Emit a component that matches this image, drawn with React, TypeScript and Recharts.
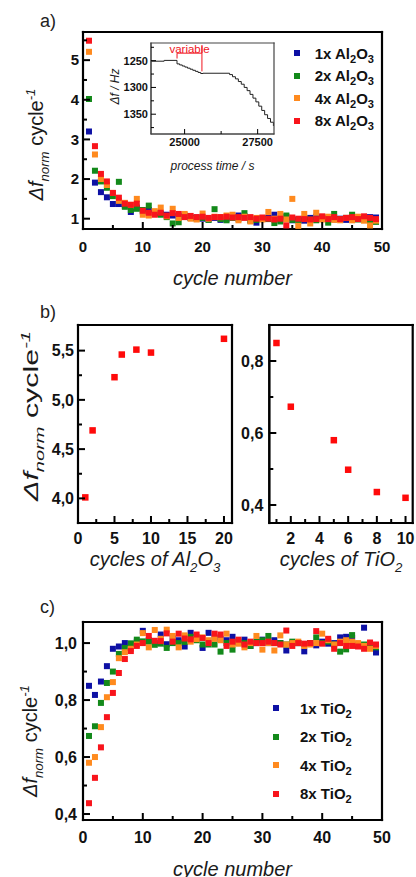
import React from 'react';
import {
  ScatterChart,
  Scatter,
  LineChart,
  Line,
  XAxis,
  YAxis,
  ReferenceLine,
  ReferenceDot,
  Label,
} from 'recharts';

const FONT = '"Liberation Sans", Arial, Helvetica, sans-serif';

// ---- panel a: Al2O3 pulses, normalised frequency shift per cycle ----
const cycleNo = Array.from({ length: 49 }, (_, i) => i + 1);

const al1x = [
  3.2, 1.91, 1.67, 1.54, 1.37, 1.37, 1.33, 1.17, 1.28, 1.18,
  1.22, 1.15, 1.12, 1.1, 1.08, 1.05, 1.07, 1.02, 1.03, 1.0,
  0.98, 1.02, 0.97, 1.0, 1.05, 1.08, 1.06, 0.96, 0.9, 1.0,
  1.02, 1.1, 0.98, 1.05, 0.96, 0.98, 0.95, 1.02, 1.05, 1.04,
  1.02, 0.98, 1.0, 0.97, 1.02, 1.0, 0.98, 1.04, 1.03,
];
const al2x = [
  4.02, 2.21, 1.94, 1.78, 1.57, 1.93, 1.3, 1.22, 1.25, 1.22,
  1.33, 1.12, 1.1, 1.04, 0.88, 0.91, 1.08, 1.02, 1.0, 1.02,
  0.97, 1.24, 0.99, 0.96, 1.02, 1.0, 1.14, 0.95, 0.97, 1.01,
  0.99, 0.89, 0.93, 1.08, 0.97, 0.95, 1.0, 0.98, 0.96, 1.0,
  0.9, 1.12, 0.99, 1.02, 1.1, 0.98, 1.02, 0.95, 0.92,
];
const al4x = [
  5.21, 2.62, 2.0, 1.85, 1.65, 1.45, 1.4, 1.35, 1.5, 1.1,
  1.08, 1.19, 1.28, 1.06, 1.25, 1.02, 1.12, 1.0, 0.98, 1.13,
  1.0, 1.05, 1.04, 1.08, 1.1, 0.96, 1.05, 0.93, 1.02, 0.98,
  1.17, 1.0, 1.12, 0.98, 1.5, 0.82, 1.12, 0.88, 1.15, 0.98,
  1.05, 0.97, 0.96, 1.02, 0.96, 1.05, 0.95, 0.83, 0.95,
];
const al8x = [
  5.49, 2.83, 2.13, 1.94, 1.65, 1.53, 1.38, 1.35, 1.38, 1.2,
  1.15, 1.1, 1.15, 1.08, 1.14, 1.12, 1.04, 1.07, 1.04, 1.05,
  1.02, 1.04, 1.04, 1.05, 1.03, 1.04, 1.02, 1.04, 1.0, 1.03,
  1.0, 0.98, 1.0, 0.83, 1.03, 1.0, 0.99, 0.98, 0.99, 1.06,
  0.99, 1.04, 0.99, 1.02, 1.04, 0.99, 1.06, 1.02, 0.99,
];

// inset: QCM frequency shift vs. process time (stepwise)
const insetTime = [
  23850, 24300, 24740, 24830, 24920, 25010, 25100, 25190, 25280, 25370,
  25460, 25550, 25630, 26540, 26640, 26740, 26840, 26940, 27040, 27140,
  27240, 27340, 27440, 27540, 27640, 27740, 27840, 27940, 28040,
];
const insetShift = [
  1251, 1249.5, 1256, 1258, 1260, 1262, 1264, 1266, 1268, 1270,
  1272, 1274, 1273.5, 1276, 1280, 1284, 1289, 1294, 1300, 1306,
  1313, 1320, 1327, 1335, 1343, 1351, 1358, 1365, 1372,
];

// ---- panel b: saturation values ----
const alCycles = [1, 2, 5, 6, 8, 10, 20];
const alSat = [4.01, 4.69, 5.23, 5.46, 5.51, 5.48, 5.62];
const tiCycles = [1, 2, 5, 6, 8, 10];
const tiSat = [0.85, 0.673, 0.58, 0.498, 0.436, 0.42];

// ---- panel c: TiO2 pulses ----
const ti1x = [
  0.85, 0.818, 0.865, 0.919, 0.98, 0.988, 1.0, 0.997, 1.005, 1.043,
  1.01, 1.0, 1.03, 0.996, 1.016, 1.01, 0.988, 1.036, 1.02, 0.983,
  1.036, 1.02, 1.015, 1.01, 1.022, 1.0, 1.012, 0.99, 1.0, 1.012,
  1.0, 1.01, 1.0, 0.974, 1.0, 1.0, 0.971, 1.0, 0.992, 1.005,
  0.998, 1.0, 1.02, 1.022, 1.018, 0.995, 1.054, 0.99, 0.967,
];
const ti2x = [
  0.674, 0.708, 0.79, 0.86, 0.9, 0.962, 0.983, 0.999, 1.012, 1.006,
  1.005, 0.994, 0.998, 0.983, 1.0, 1.0, 1.004, 1.022, 1.01, 0.995,
  0.995, 0.995, 0.97, 1.0, 0.977, 1.005, 1.0, 0.99, 1.005, 1.01,
  1.025, 1.0, 1.0, 0.995, 1.005, 1.0, 0.995, 1.0, 1.02, 1.0,
  1.005, 0.995, 0.97, 0.978, 1.028, 0.99, 0.995, 0.99, 0.985,
];
const ti4x = [
  0.58, 0.6, 0.705, 0.81, 0.863, 0.947, 0.968, 0.98, 0.995, 1.035,
  0.985, 1.046, 1.015, 1.047, 1.025, 0.985, 1.027, 1.005, 1.014, 1.02,
  1.01, 1.015, 1.01, 1.033, 0.995, 0.998, 0.985, 1.0, 1.025, 0.977,
  1.0, 0.974, 1.027, 0.995, 1.0, 1.005, 0.99, 0.995, 1.0, 1.033,
  1.01, 0.995, 1.005, 1.01, 1.005, 1.0, 0.99, 0.98, 0.99,
];
const ti8x = [
  0.438, 0.527, 0.634, 0.74, 0.825, 0.895, 0.944, 0.972, 0.99, 1.0,
  1.025, 1.008, 1.007, 1.034, 1.005, 1.033, 1.016, 1.013, 1.03, 1.018,
  1.0, 1.033, 1.03, 0.99, 1.005, 1.012, 0.995, 1.005, 1.0, 1.0,
  1.005, 1.0, 0.995, 1.044, 0.99, 1.0, 0.998, 1.0, 1.042, 0.998,
  1.015, 0.98, 1.0, 0.99, 0.99, 0.988, 0.98, 1.002, 0.995,
];

const pulseLabels = ['1x', '2x', '4x', '8x'];
const pulseColors = ['#0d10a4', '#13891a', '#ff8a1e', '#f8141b'];

// tick positions (minor + major)
const cycTicks = [0, 5, 10, 15, 20, 25, 30, 35, 40, 45, 50];
const aYTicks = [1, 1.5, 2, 2.5, 3, 3.5, 4, 4.5, 5, 5.5];
const insetXTicks = [25000, 26250, 27500];
const insetYTicks = [1225, 1250, 1275, 1300, 1325, 1350, 1375];
const bAlXTicks = [0, 2.5, 5, 7.5, 10, 12.5, 15, 17.5, 20];
const bAlYTicks = [4, 4.25, 4.5, 4.75, 5, 5.25, 5.5];
const bTiXTicks = [1, 2, 3, 4, 5, 6, 7, 8, 9, 10];
const bTiYTicks = [0.4, 0.5, 0.6, 0.7, 0.8];
const cYTicks = [0.4, 0.5, 0.6, 0.7, 0.8, 0.9, 1.0];

const pts = (xs: number[], ys: number[]) => xs.map((x, i) => ({ x, y: ys[i] }));
const comma = (v: number) => v.toFixed(1).replace('.', ',');

const square = (size: number) => (p: any) => (
  <rect x={p.cx - size / 2} y={p.cy - size / 2} width={size} height={size} fill={p.fill} />
);

const BLACK_AXIS = { stroke: '#000', strokeWidth: 2 };
const GREY_AXIS = { stroke: '#444', strokeWidth: 1 };

// closed box along the domain corners, as line segments in data space
const frame = (x0: number, x1: number, y0: number, y1: number, color = '#000', sw = 2.2) =>
  [
    [x0, y0, x1, y0],
    [x1, y0, x1, y1],
    [x1, y1, x0, y1],
    [x0, y1, x0, y0],
  ].map(([ax, ay, bx, by], i) => (
    <ReferenceLine
      key={'frame' + i}
      segment={[{ x: ax, y: ay }, { x: bx, y: by }]}
      stroke={color}
      strokeWidth={sw}
      strokeLinecap="square"
      ifOverflow="visible"
    />
  ));

type TickOpts = {
  side: 'bottom' | 'left';
  gap: number;
  size: number;
  isMajor: (v: number) => boolean;
  fmt?: (v: number) => string;
  major?: number;
  minor?: number;
  sw?: number;
};

// inward pointing ticks, labels only on majors
function axisTick(o: TickOpts) {
  return (p: any) => {
    const v = p.payload.value;
    const isMaj = o.isMajor(v);
    const txt = o.fmt ? o.fmt(v) : String(v);
    const len = isMaj ? o.major ?? 7 : o.minor ?? 4;
    const sw = o.sw ?? 2;
    if (o.side === 'bottom') {
      const y0 = p.y - o.gap;
      return (
        <g>
          <rect x={p.x - sw / 2} y={y0 - len} width={sw} height={len} fill="#000" />
          {isMaj && (
            <text x={p.x} y={p.y} dy="0.71em" textAnchor="middle" fontFamily={FONT} fontSize={o.size} fontWeight="bold" fill="#111">
              {txt}
            </text>
          )}
        </g>
      );
    }
    const x0 = p.x + o.gap;
    return (
      <g>
        <rect x={x0} y={p.y - sw / 2} width={len} height={sw} fill="#000" />
        {isMaj && (
          <text x={p.x} y={p.y} dy="0.355em" textAnchor="end" fontFamily={FONT} fontSize={o.size} fontWeight="bold" fill="#111">
            {txt}
          </text>
        )}
      </g>
    );
  };
}

const yTitle = (dx: number, dy: number, size: number, len?: number) => (props: any) => {
  const vb = props.viewBox;
  const cx = vb.x + dx;
  const cy = vb.y + vb.height / 2 + dy;
  const sub = size * 0.66;
  return (
    <text
      x={cx}
      y={cy}
      transform={`rotate(-90 ${cx} ${cy})`}
      textAnchor="middle"
      fontFamily={FONT}
      fontSize={size}
      fill="#1a1a1a"
      textLength={len}
      lengthAdjust={len ? 'spacingAndGlyphs' : undefined}
    >
      <tspan fontStyle="italic">Δf</tspan>
      <tspan fontStyle="italic" fontSize={sub} dy={size * 0.3}>norm</tspan>
      <tspan dy={-size * 0.3}>{' cycle'}</tspan>
      <tspan fontStyle="italic" fontSize={sub} dy={-size * 0.42}>-1</tspan>
    </text>
  );
};

const xTitle = (base: number, size: number, parts: [string, string?][]) => (props: any) => {
  const vb = props.viewBox;
  const cx = vb.x + vb.width / 2;
  const sub = size * 0.66;
  const shift = size * 0.3;
  const out: React.ReactNode[] = [];
  parts.forEach(([main, s], i) => {
    out.push(<tspan key={'m' + i} dy={i > 0 && parts[i - 1][1] ? -shift : 0}>{main}</tspan>);
    if (s) out.push(<tspan key={'s' + i} fontSize={sub} dy={shift}>{s}</tspan>);
  });
  return (
    <text x={cx} y={vb.y + base} textAnchor="middle" fontFamily={FONT} fontSize={size} fontStyle="italic" fill="#1a1a1a">
      {out}
    </text>
  );
};

function Legend({ names, formula, left, top, row, gap, size }: {
  names: string[];
  formula: React.ReactNode;
  left: number;
  top: number;
  row: number;
  gap: number;
  size: number;
}) {
  return (
    <div style={{ position: 'absolute', left, top, fontFamily: FONT, fontWeight: 'bold', fontSize: size, color: '#111' }}>
      {names.map((n, i) => (
        <div key={n} style={{ height: row, display: 'flex', alignItems: 'center' }}>
          <span style={{ width: 6, height: 6, background: pulseColors[i], marginRight: gap, display: 'inline-block' }} />
          <span style={{ whiteSpace: 'nowrap' }}>
            {n} {formula}
          </span>
        </div>
      ))}
    </div>
  );
}

const subStyle: React.CSSProperties = { fontSize: '0.74em', verticalAlign: '-0.32em', lineHeight: 0 };
const Al2O3 = (
  <>
    Al<span style={subStyle}>2</span>O<span style={subStyle}>3</span>
  </>
);
const TiO2 = (
  <>
    TiO<span style={subStyle}>2</span>
  </>
);

const panelLabel = (t: string, left: number, top: number) => (
  <div style={{ position: 'absolute', left, top, fontFamily: FONT, fontSize: 18, color: '#222', lineHeight: '18px' }}>{t}</div>
);

const alSeries = [al1x, al2x, al4x, al8x];
const tiSeries = [ti1x, ti2x, ti4x, ti8x];
const insetData = insetTime.map((t, i) => ({ t, f: insetShift[i] }));

export default function App() {
  const isInt = (v: number) => Number.isInteger(v);
  const mult10 = (v: number) => v % 10 === 0;
  return (
    <div style={{ position: 'absolute', left: 0, top: 0, width: 416, height: 877, background: '#fff', overflow: 'hidden' }}>
      {/* a) */}
      <div style={{ position: 'absolute', left: 0, top: 0 }}>
        <ScatterChart width={416} height={300} margin={{ top: 32, right: 34, bottom: 0, left: 0 }}>
          <XAxis
            type="number" dataKey="x" domain={[0, 50]} ticks={cycTicks} interval={0} allowDataOverflow
            height={71} tickSize={0} tickMargin={12} axisLine={BLACK_AXIS} tickLine={false}
            tick={axisTick({ side: 'bottom', gap: 12, size: 15, isMajor: mult10 })}
          >
            <Label content={xTitle(56, 20, [['cycle number']])} />
          </XAxis>
          <YAxis
            type="number" dataKey="y" domain={[0.74, 5.71]} ticks={aYTicks} interval={0} allowDataOverflow
            width={83} tickSize={0} tickMargin={4} axisLine={BLACK_AXIS} tickLine={false}
            tick={axisTick({ side: 'left', gap: 4, size: 15, isMajor: isInt })}
          >
            <Label content={yTitle(43, 14, 20)} />
          </YAxis>
          {alSeries.map((ys, i) => (
            <Scatter key={i} data={pts(cycleNo, ys)} fill={pulseColors[i]} shape={square(6)} isAnimationActive={false} />
          ))}
          {frame(0, 50, 0.74, 5.71)}
        </ScatterChart>
      </div>

      {/* inset */}
      <div style={{ position: 'absolute', left: 100, top: 38 }}>
        <LineChart width={180} height={140} data={insetData} margin={{ top: 5, right: 6, bottom: 0, left: 0 }}>
          <XAxis
            type="number" dataKey="t" domain={[23850, 28060]} ticks={insetXTicks} interval={0} allowDataOverflow
            height={44} tickSize={0} tickMargin={4} axisLine={GREY_AXIS} tickLine={false}
            tick={axisTick({ side: 'bottom', gap: 4, size: 11, isMajor: (v) => v % 2500 === 0, major: 5, minor: 3, sw: 1 })}
          >
            <Label content={xTitle(36, 12, [['process time / s']])} />
          </XAxis>
          <YAxis
            type="number" dataKey="f" domain={[1217, 1387]} reversed ticks={insetYTicks} interval={0} allowDataOverflow
            width={51} tickSize={0} tickMargin={3} axisLine={GREY_AXIS} tickLine={false}
            tick={axisTick({ side: 'left', gap: 3, size: 11, isMajor: (v) => v % 50 === 0, major: 5, minor: 3, sw: 1 })}
          >
            <Label
              content={(props: any) => {
                const vb = props.viewBox;
                const cx = vb.x + 15;
                const cy = vb.y + vb.height / 2 - 2;
                return (
                  <text x={cx} y={cy} transform={`rotate(-90 ${cx} ${cy})`} textAnchor="middle" dominantBaseline="central" fontFamily={FONT} fontSize={12} fontStyle="italic" fill="#1a1a1a">
                    Δf / Hz
                  </text>
                );
              }}
            />
          </YAxis>
          <Line type="stepAfter" dataKey="f" stroke="#222" strokeWidth={1} dot={false} isAnimationActive={false} />
          <ReferenceLine segment={[{ x: 24741, y: 1236 }, { x: 24741, y: 1246 }]} stroke="#f0141e" strokeWidth={1} />
          <ReferenceLine segment={[{ x: 24741, y: 1236 }, { x: 25593, y: 1236 }]} stroke="#f0141e" strokeWidth={1} />
          <ReferenceLine segment={[{ x: 25593, y: 1223 }, { x: 25593, y: 1270 }]} stroke="#f0141e" strokeWidth={1} />
          <ReferenceDot x={25170} y={1228} r={0} fill="none" stroke="none" label={{ value: 'variable', position: 'center', fill: '#f0141e', fontSize: 11.5, fontFamily: FONT }} />
          {frame(23850, 28060, 1217, 1387, '#444', 1.2)}
        </LineChart>
      </div>
      <Legend names={pulseLabels} formula={Al2O3} left={293.7} top={41.75} row={22.5} gap={15} size={15} />

      {/* b) left */}
      <div style={{ position: 'absolute', left: 0, top: 300 }}>
        <ScatterChart width={236} height={290} margin={{ top: 25, right: 4, bottom: 0, left: 0 }}>
          <XAxis
            type="number" dataKey="x" domain={[0, 21.1]} ticks={bAlXTicks} interval={0} allowDataOverflow
            height={67} tickSize={0} tickMargin={10} axisLine={BLACK_AXIS} tickLine={false}
            tick={axisTick({ side: 'bottom', gap: 10, size: 16, isMajor: (v) => v % 5 === 0 })}
          >
            <Label content={xTitle(43, 20, [['cycles of Al', '2'], ['O', '3']])} />
          </XAxis>
          <YAxis
            type="number" dataKey="y" domain={[3.75, 5.76]} ticks={bAlYTicks} interval={0} allowDataOverflow
            width={78} tickSize={0} tickMargin={4} axisLine={BLACK_AXIS} tickLine={false}
            tick={axisTick({ side: 'left', gap: 4, size: 16, isMajor: (v) => (v * 2) % 1 === 0, fmt: comma })}
          >
            <Label content={yTitle(38, -8, 20, 170)} />
          </YAxis>
          <Scatter data={pts(alCycles, alSat)} fill="#ff0a0a" shape={square(6.5)} isAnimationActive={false} />
          {frame(0, 21.1, 3.75, 5.76)}
        </ScatterChart>
      </div>

      {/* b) right */}
      <div style={{ position: 'absolute', left: 232, top: 300 }}>
        <ScatterChart width={184} height={290} margin={{ top: 25, right: 3.3, bottom: 0, left: 0 }}>
          <XAxis
            type="number" dataKey="x" domain={[0.5, 10.5]} ticks={bTiXTicks} interval={0} allowDataOverflow
            height={67} tickSize={0} tickMargin={10} axisLine={BLACK_AXIS} tickLine={false}
            tick={axisTick({ side: 'bottom', gap: 10, size: 16, isMajor: (v) => v % 2 === 0 })}
          >
            <Label content={xTitle(43, 20, [['cycles of TiO', '2']])} />
          </XAxis>
          <YAxis
            type="number" dataKey="y" domain={[0.35, 0.9]} ticks={bTiYTicks} interval={0} allowDataOverflow
            width={37.3} tickSize={0} tickMargin={6} axisLine={BLACK_AXIS} tickLine={false}
            tick={axisTick({ side: 'left', gap: 6, size: 16, isMajor: (v) => Math.round(v * 10) % 2 === 0, fmt: comma })}
          />
          <Scatter data={pts(tiCycles, tiSat)} fill="#ff0a0a" shape={square(6.5)} isAnimationActive={false} />
          {frame(0.5, 10.5, 0.35, 0.9)}
        </ScatterChart>
      </div>

      {/* c) */}
      <div style={{ position: 'absolute', left: 0, top: 590 }}>
        <ScatterChart width={416} height={287} margin={{ top: 32, right: 34, bottom: 0, left: 0 }}>
          <XAxis
            type="number" dataKey="x" domain={[0, 50]} ticks={cycTicks} interval={0} allowDataOverflow
            height={57} tickSize={0} tickMargin={12} axisLine={BLACK_AXIS} tickLine={false}
            tick={axisTick({ side: 'bottom', gap: 12, size: 16, isMajor: mult10 })}
          >
            <Label content={xTitle(56, 20, [['cycle number']])} />
          </XAxis>
          <YAxis
            type="number" dataKey="y" domain={[0.379, 1.074]} ticks={cYTicks} interval={0} allowDataOverflow
            width={83} tickSize={0} tickMargin={6} axisLine={BLACK_AXIS} tickLine={false}
            tick={axisTick({ side: 'left', gap: 6, size: 16, isMajor: (v) => Math.round(v * 10) % 2 === 0, fmt: comma })}
          >
            <Label content={yTitle(37, 20, 20)} />
          </YAxis>
          {tiSeries.map((ys, i) => (
            <Scatter key={i} data={pts(cycleNo, ys)} fill={pulseColors[i]} shape={square(6)} isAnimationActive={false} />
          ))}
          {frame(0, 50, 0.379, 1.074)}
        </ScatterChart>
      </div>
      <Legend names={pulseLabels} formula={TiO2} left={273} top={693.75} row={28.5} gap={21} size={15} />

      {panelLabel('a)', 40, 12)}
      {panelLabel('b)', 40, 303)}
      {panelLabel('c)', 40, 598)}
    </div>
  );
}
